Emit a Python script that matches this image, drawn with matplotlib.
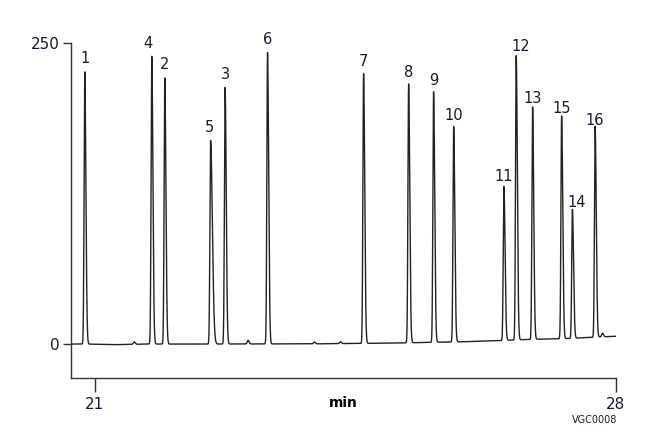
import numpy as np
import matplotlib.pyplot as plt

# peak labels, retention times (min), heights
PEAK_LABELS = ["1", "4", "2", "5", "3", "6", "7", "8", "9", "10",
               "11", "12", "13", "15", "14", "16"]
PEAK_TIMES = [20.865, 21.765, 21.94, 22.555, 22.75, 23.32, 24.61, 25.215,
              25.55, 25.82, 26.495, 26.66, 26.88, 27.27, 27.415, 27.72]
PEAK_HEIGHTS = [226, 239, 221, 169, 213, 242, 224, 215, 208, 179,
                128, 236, 193, 185, 107, 175]
# trailing-edge width (min); peak 5 carries a shoulder
PEAK_TAIL = [0.015, 0.015, 0.015, 0.024, 0.015, 0.015, 0.015, 0.015,
             0.015, 0.015, 0.015, 0.015, 0.015, 0.015, 0.015, 0.015]

# small baseline bumps
MINOR_TIMES = [21.53, 23.06, 23.95, 24.3, 27.82]
MINOR_HEIGHTS = [2.0, 3.0, 1.5, 1.5, 3.0]

# baseline drift knots
BASE_T = [20.68, 20.9, 21.3, 21.7, 22.5, 24.0, 25.0, 26.0, 26.4, 26.8, 27.3, 28.0]
BASE_Y = [0.0, 0.0, -0.5, 0.0, 0.0, 0.2, 0.8, 2.0, 2.8, 3.8, 4.5, 6.5]

# label offsets (points) for crowded peaks
LABEL_DX = {"4": -3, "12": 3, "14": 3, "5": -1}


def peak(t, t0, h, sl=0.009, sr=0.015):
    s = np.where(t < t0, sl, sr)
    return h * np.exp(-0.5 * ((t - t0) / s) ** 2)


def main():
    t = np.linspace(20.68, 28.0, 8000)
    y = np.interp(t, BASE_T, BASE_Y)
    for t0, h, sr in zip(PEAK_TIMES, PEAK_HEIGHTS, PEAK_TAIL):
        y += peak(t, t0, h, 0.009, sr)
    for t0, h in zip(MINOR_TIMES, MINOR_HEIGHTS):
        y += peak(t, t0, h, 0.012, 0.013)

    fig = plt.figure(figsize=(6.59, 4.36), dpi=100)
    ax = fig.add_axes([0.1077, 0.133, 0.8270, 0.7684])
    ax.plot(t, y, color="#222222", lw=1.0)

    font = ["Liberation Sans Narrow", "DejaVu Sans"]
    for lab, t0, h in zip(PEAK_LABELS, PEAK_TIMES, PEAK_HEIGHTS):
        ax.annotate(lab, (t0, h), xytext=(LABEL_DX.get(lab, 0), 4),
                    textcoords="offset points", ha="center", va="bottom",
                    fontsize=10.5, family=font, color="#1a1a2e",
                    annotation_clip=False)

    ax.set_xlim(20.68, 28.0)
    ax.set_ylim(-28.2, 250)
    ax.set_xticks([21, 28])
    ax.set_yticks([0, 250])
    ax.tick_params(axis="x", direction="out", length=10, width=1,
                   color="#333333", labelsize=11, pad=4)
    ax.tick_params(axis="y", direction="out", length=6, width=1,
                   color="#333333", labelsize=11, pad=2)
    for lbl in ax.get_xticklabels() + ax.get_yticklabels():
        lbl.set_family(font)
        lbl.set_color("#1a1a2e")
    for side in ["top", "right"]:
        ax.spines[side].set_visible(False)
    for side in ["left", "bottom"]:
        ax.spines[side].set_color("#333333")
        ax.spines[side].set_linewidth(1.0)

    ax.set_xlabel("min", fontweight="bold", fontsize=10, family=font,
                  labelpad=-12)
    fig.text(0.903, 0.03, "VGC0008", fontsize=7, family=font,
             color="#1a1a2e", ha="center")

    fig.savefig("out.png", dpi=100)


if __name__ == "__main__":
    main()
